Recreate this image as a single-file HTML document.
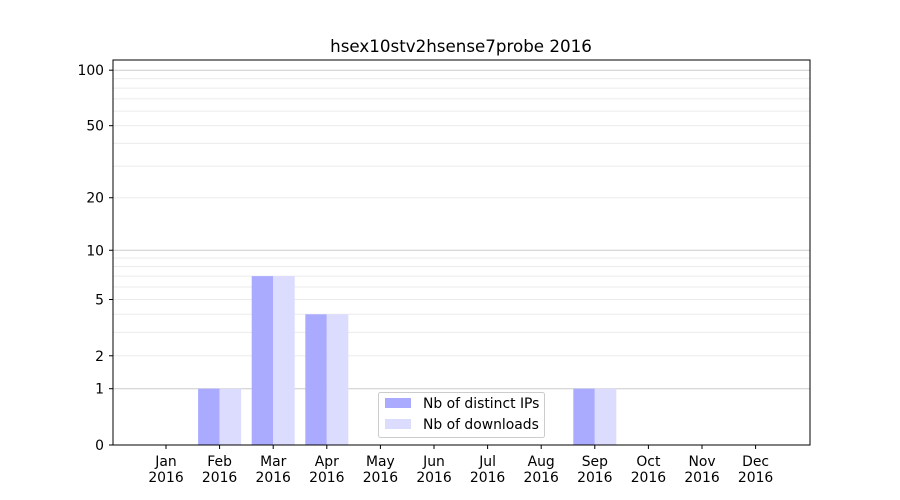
<!DOCTYPE html>
<html><head><meta charset="utf-8"><style>body{margin:0;background:#fff}svg{display:block;font-family:"DejaVu Sans","Liberation Sans",sans-serif}</style></head>
<body>
<svg width="900" height="500" xmlns="http://www.w3.org/2000/svg">
<rect width="900" height="500" fill="#fff"/>
<g id="grid"></g>
<g id="bars"></g>
<rect x="113" y="60" width="697" height="385" fill="none" stroke="#000" stroke-width="1"/>
<g id="ticks" font-size="13.9" fill="#000"></g>
<text x="461" y="52" text-anchor="middle" font-size="16.7">hsex10stv2hsense7probe 2016</text>
<rect x="378.5" y="392.5" width="166" height="45" rx="2" fill="#fff" fill-opacity="0.8" stroke="#ccc"/>
<rect x="385" y="398" width="26" height="10" fill="#aaaaff"/>
<text x="423" y="408" font-size="13.9">Nb of distinct IPs</text>
<rect x="385" y="419" width="26" height="10" fill="#dcdcff"/>
<text x="423" y="429" font-size="13.9">Nb of downloads</text>
</svg>
<script>
const ns="http://www.w3.org/2000/svg";
function Y(v){return 445-187*Math.log10(1+v);}
function el(p,t,a,txt){const e=document.createElementNS(ns,t);for(const k in a)e.setAttribute(k,a[k]);if(txt!==undefined)e.textContent=txt;p.appendChild(e);return e;}
const g=document.getElementById('grid'),b=document.getElementById('bars'),tk=document.getElementById('ticks');
const minors=[2,3,4,5,6,7,8,9,20,30,40,50,60,70,80,90];
minors.forEach(v=>el(g,'line',{x1:113,x2:810,y1:Y(v),y2:Y(v),stroke:'#ebebeb','stroke-width':1}));
[1,10,100].forEach(v=>el(g,'line',{x1:113,x2:810,y1:Y(v),y2:Y(v),stroke:'#cccccc','stroke-width':1}));
const months=['Jan','Feb','Mar','Apr','May','Jun','Jul','Aug','Sep','Oct','Nov','Dec'];
const vals=[0,1,7,4,0,0,0,0,1,0,0,0];
months.forEach((m,i)=>{const c=166+i*53.6;
 if(vals[i]>0){const y=Y(vals[i]);
  el(b,'rect',{x:c-21.5,y:y,width:21.5,height:445-y,fill:'#aaaaff'});
  el(b,'rect',{x:c,y:y,width:21.5,height:445-y,fill:'#dcdcff'});}
 el(tk,'line',{x1:c,x2:c,y1:445,y2:449,stroke:'#000'});
 el(tk,'text',{x:c,y:466,'text-anchor':'middle'},m);
 el(tk,'text',{x:c,y:482,'text-anchor':'middle'},'2016');
});
[0,1,2,5,10,20,50,100].forEach(v=>{const y=Y(v);
 el(tk,'line',{x1:109,x2:113,y1:y,y2:y,stroke:'#000'});
 el(tk,'text',{x:104,y:y+5,'text-anchor':'end'},String(v));});
</script>
</body></html>
